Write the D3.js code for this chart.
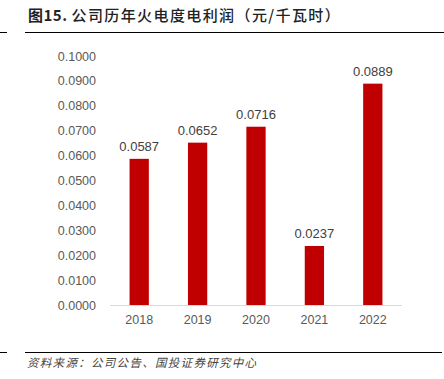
<!DOCTYPE html>
<html>
<head>
<meta charset="utf-8">
<script src="https://cdn.jsdelivr.net/npm/d3@7"></script>
<style>
  body { margin: 0; background: #fff; }
  svg { display: block; }
</style>
</head>
<body>
<svg id="chart"></svg>
<script>
const years = ["2018", "2019", "2020", "2021", "2022"];
const profit = [0.0587, 0.0652, 0.0716, 0.0237, 0.0889];
const yTicks = [0, 0.01, 0.02, 0.03, 0.04, 0.05, 0.06, 0.07, 0.08, 0.09, 0.1];

const width = 444, height = 379;
const svg = d3.select("#chart").attr("width", width).attr("height", height);

const x = d3.scaleBand().domain(years).range([110, 402]).paddingInner(0.67).paddingOuter(0.335);
const y = d3.scaleLinear().domain([0, 0.1]).range([305, 56]);

// title and its rule
const title = svg.append("text")
    .attr("x", 28).attr("y", 21)
    .attr("font-family", "'Noto Sans CJK SC', sans-serif")
    .attr("font-size", 15)
    .attr("fill", "#222");
title.append("tspan").attr("font-weight", 700).attr("letter-spacing", 0.5).text("图15. ");
title.append("tspan").attr("font-weight", 500).attr("letter-spacing", 1.4).text("公司历年火电度电利润（元/千瓦时）");
svg.append("line").attr("x1", 0).attr("x2", 7).attr("y1", 32.5).attr("y2", 32.5).attr("stroke", "#000");
svg.append("line").attr("x1", 25).attr("x2", 444).attr("y1", 32.5).attr("y2", 32.5).attr("stroke", "#000");

// y axis labels
const yAxis = svg.append("g")
    .attr("transform", "translate(96,0)")
    .call(d3.axisLeft(y).tickValues(yTicks).tickFormat(d3.format(".4f")).tickSize(0).tickPadding(0));
yAxis.select(".domain").remove();
yAxis.selectAll("text")
    .attr("font-family", "'Liberation Sans', Arial, sans-serif")
    .attr("font-size", 12.5)
    .attr("fill", "#595959");

// baseline
svg.append("line")
    .attr("x1", 110).attr("x2", 402)
    .attr("y1", y(0) + 0.5).attr("y2", y(0) + 0.5)
    .attr("stroke", "#d9d9d9");

// bars
svg.selectAll("rect.bar")
    .data(years)
    .join("rect")
    .attr("class", "bar")
    .attr("x", d => x(d))
    .attr("width", x.bandwidth())
    .attr("y", (d, i) => y(profit[i]))
    .attr("height", (d, i) => y(0) - y(profit[i]))
    .attr("fill", "#c00000");

// value labels
svg.selectAll("text.value")
    .data(years)
    .join("text")
    .attr("class", "value")
    .attr("x", d => x(d) + x.bandwidth() / 2)
    .attr("y", (d, i) => y(profit[i]) - 8)
    .attr("text-anchor", "middle")
    .attr("font-family", "'Liberation Sans', Arial, sans-serif")
    .attr("font-size", 13)
    .attr("fill", "#404040")
    .text((d, i) => d3.format(".4f")(profit[i]));

// x axis labels
const xAxis = svg.append("g")
    .attr("transform", `translate(0,${y(0)})`)
    .call(d3.axisBottom(x).tickSize(0).tickPadding(10));
xAxis.select(".domain").remove();
xAxis.selectAll("text")
    .attr("font-family", "'Liberation Sans', Arial, sans-serif")
    .attr("font-size", 12.5)
    .attr("fill", "#595959");

// footer
svg.append("line").attr("x1", 0).attr("x2", 7).attr("y1", 352.5).attr("y2", 352.5).attr("stroke", "#000");
svg.append("line").attr("x1", 25).attr("x2", 442).attr("y1", 352.5).attr("y2", 352.5).attr("stroke", "#000");
svg.append("text")
    .attr("x", 27).attr("y", 367)
    .attr("font-family", "'Noto Sans CJK SC', sans-serif")
    .attr("font-size", 11.5)
    .attr("font-style", "italic")
    .attr("letter-spacing", 1.3)
    .attr("fill", "#444")
    .text("资料来源：公司公告、国投证券研究中心");
</script>
</body>
</html>
